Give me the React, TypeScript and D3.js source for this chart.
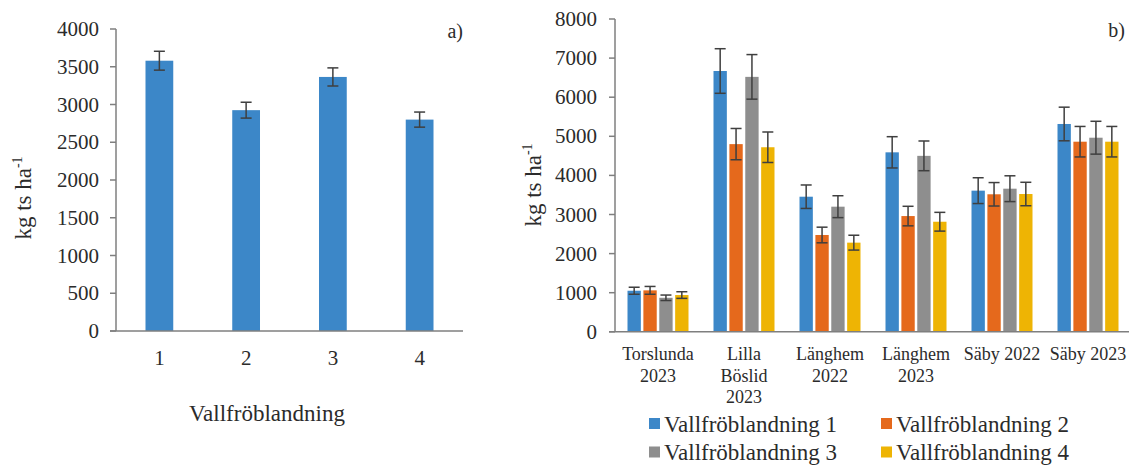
import React, { useEffect, useRef } from "react";
import * as d3 from "d3";

// Panel a) – mean yield per seed mixture
const mixtures = ["1", "2", "3", "4"];
const meanYield = [3580, 2925, 3365, 2800];
const meanErr = [125, 105, 120, 100];

// Panel b) – yield per site and year
const sites = [
  ["Torslunda", "2023"],
  ["Lilla", "Böslid", "2023"],
  ["Länghem", "2022"],
  ["Länghem", "2023"],
  ["Säby 2022"],
  ["Säby 2023"],
];
const seriesNames = [
  "Vallfröblandning 1",
  "Vallfröblandning 2",
  "Vallfröblandning 3",
  "Vallfröblandning 4",
];
const mix1 = [1050, 6670, 3455, 4590, 3610, 5315];
const mix2 = [1060, 4800, 2476, 2960, 3517, 4862];
const mix3 = [870, 6520, 3200, 4500, 3660, 4964];
const mix4 = [940, 4720, 2280, 2815, 3524, 4862];
const err1 = [90, 570, 300, 400, 330, 430];
const err2 = [100, 400, 200, 250, 300, 390];
const err3 = [70, 570, 280, 380, 330, 420];
const err4 = [85, 390, 190, 240, 300, 390];

const yTicksA = d3.range(0, 4001, 500);
const yTicksB = d3.range(0, 8001, 1000);

const colors = ["#3c87c8", "#e5691c", "#8e8e8e", "#eeb404"];
const font = "Liberation Serif, DejaVu Serif, serif";
const textColor = "#2b2b2b";
const axisColor = "#7f7f7f";
const errColor = "#3f3f3f";

const App = () => {
  const svgRef = useRef(null);

  useEffect(() => {
    const svg = d3.select(svgRef.current);
    svg.selectAll("*").remove();
    svg.attr("font-family", font);

    // ---------- panel a ----------
    const xA = d3.scaleBand().domain(mixtures).range([116, 463]).padding(0);
    const yA = d3.scaleLinear().domain([0, 4000]).range([331, 29]);
    const barWA = xA.bandwidth() * 0.32;

    const gA = svg.append("g");

    // y axis ticks + labels
    gA.selectAll(".tickA")
      .data(yTicksA)
      .enter()
      .append("line")
      .attr("x1", 110)
      .attr("x2", 116)
      .attr("y1", (d) => yA(d))
      .attr("y2", (d) => yA(d))
      .attr("stroke", axisColor)
      .attr("stroke-width", 1.5);

    gA.selectAll(".tickLabelA")
      .data(yTicksA)
      .enter()
      .append("text")
      .attr("x", 99)
      .attr("y", (d) => yA(d) + 7)
      .attr("text-anchor", "end")
      .attr("font-size", 21)
      .attr("fill", textColor)
      .text((d) => d);

    // bars
    gA.selectAll(".barA")
      .data(meanYield)
      .enter()
      .append("rect")
      .attr("x", (d, i) => xA(mixtures[i]) + xA.bandwidth() / 2 - barWA / 2)
      .attr("y", (d) => yA(d))
      .attr("width", barWA)
      .attr("height", (d) => yA(0) - yA(d))
      .attr("fill", colors[0]);

    // error bars
    meanYield.forEach((d, i) => {
      const cx = xA(mixtures[i]) + xA.bandwidth() / 2;
      const lo = yA(d - meanErr[i]);
      const hi = yA(d + meanErr[i]);
      gA.append("line")
        .attr("x1", cx).attr("x2", cx).attr("y1", lo).attr("y2", hi)
        .attr("stroke", errColor).attr("stroke-width", 1.5);
      [lo, hi].forEach((yy) =>
        gA.append("line")
          .attr("x1", cx - 5.5).attr("x2", cx + 5.5).attr("y1", yy).attr("y2", yy)
          .attr("stroke", errColor).attr("stroke-width", 1.5)
      );
    });

    // axes lines
    gA.append("line")
      .attr("x1", 116).attr("x2", 116).attr("y1", yA(4000)).attr("y2", yA(0))
      .attr("stroke", axisColor).attr("stroke-width", 1.5);
    gA.append("line")
      .attr("x1", 110).attr("x2", 463).attr("y1", yA(0)).attr("y2", yA(0))
      .attr("stroke", axisColor).attr("stroke-width", 1.5);

    // category labels
    gA.selectAll(".catA")
      .data(mixtures)
      .enter()
      .append("text")
      .attr("x", (d) => xA(d) + xA.bandwidth() / 2)
      .attr("y", 365)
      .attr("text-anchor", "middle")
      .attr("font-size", 21)
      .attr("fill", textColor)
      .text((d) => d);

    // axis title
    gA.append("text")
      .attr("x", 267)
      .attr("y", 421)
      .attr("text-anchor", "middle")
      .attr("font-size", 23)
      .attr("fill", textColor)
      .text("Vallfröblandning");

    const yLabA = gA.append("text")
      .attr("transform", "translate(31,198) rotate(-90)")
      .attr("text-anchor", "middle")
      .attr("font-size", 23)
      .attr("fill", textColor);
    yLabA.append("tspan").text("kg ts ha");
    yLabA.append("tspan").attr("dy", -9).attr("font-size", 14).text("-1");

    gA.append("text")
      .attr("x", 463)
      .attr("y", 38)
      .attr("text-anchor", "end")
      .attr("font-size", 20)
      .attr("fill", textColor)
      .text("a)");

    // ---------- panel b ----------
    const siteKeys = sites.map((s) => s.join(" "));
    const x0 = d3.scaleBand().domain(siteKeys).range([615, 1131]).padding(0);
    const groupW = 61;
    const x1 = d3
      .scaleBand()
      .domain(seriesNames)
      .range([x0.bandwidth() / 2 - groupW / 2, x0.bandwidth() / 2 + groupW / 2])
      .paddingInner(0.16);
    const yB = d3.scaleLinear().domain([0, 8000]).range([331.8, 19]);

    const gB = svg.append("g");

    gB.selectAll(".tickB")
      .data(yTicksB)
      .enter()
      .append("line")
      .attr("x1", 609)
      .attr("x2", 615)
      .attr("y1", (d) => yB(d))
      .attr("y2", (d) => yB(d))
      .attr("stroke", axisColor)
      .attr("stroke-width", 1.5);

    gB.selectAll(".tickLabelB")
      .data(yTicksB)
      .enter()
      .append("text")
      .attr("x", 597)
      .attr("y", (d) => yB(d) + 7)
      .attr("text-anchor", "end")
      .attr("font-size", 21)
      .attr("fill", textColor)
      .text((d) => d);

    const values = [mix1, mix2, mix3, mix4];
    const errors = [err1, err2, err3, err4];

    values.forEach((vals, s) => {
      gB.selectAll(".bar" + s)
        .data(vals)
        .enter()
        .append("rect")
        .attr("x", (d, i) => x0(siteKeys[i]) + x1(seriesNames[s]))
        .attr("y", (d) => yB(d))
        .attr("width", x1.bandwidth())
        .attr("height", (d) => yB(0) - yB(d))
        .attr("fill", colors[s]);
    });

    values.forEach((vals, s) => {
      vals.forEach((d, i) => {
        const cx = x0(siteKeys[i]) + x1(seriesNames[s]) + x1.bandwidth() / 2;
        const lo = yB(d - errors[s][i]);
        const hi = yB(d + errors[s][i]);
        gB.append("line")
          .attr("x1", cx).attr("x2", cx).attr("y1", lo).attr("y2", hi)
          .attr("stroke", errColor).attr("stroke-width", 1.5);
        [lo, hi].forEach((yy) =>
          gB.append("line")
            .attr("x1", cx - 5.5).attr("x2", cx + 5.5).attr("y1", yy).attr("y2", yy)
            .attr("stroke", errColor).attr("stroke-width", 1.5)
        );
      });
    });

    gB.append("line")
      .attr("x1", 615).attr("x2", 615).attr("y1", yB(8000)).attr("y2", yB(0))
      .attr("stroke", axisColor).attr("stroke-width", 1.5);
    gB.append("line")
      .attr("x1", 609).attr("x2", 1129).attr("y1", yB(0)).attr("y2", yB(0))
      .attr("stroke", axisColor).attr("stroke-width", 1.5);

    // multi-line site labels
    sites.forEach((lines, i) => {
      const t = gB.append("text")
        .attr("text-anchor", "middle")
        .attr("font-size", 18)
        .attr("fill", textColor);
      lines.forEach((ln, j) => {
        t.append("tspan")
          .attr("x", x0(siteKeys[i]) + x0.bandwidth() / 2)
          .attr("y", 360 + j * 21.5)
          .text(ln);
      });
    });

    const yLabB = gB.append("text")
      .attr("transform", "translate(541,185) rotate(-90)")
      .attr("text-anchor", "middle")
      .attr("font-size", 23)
      .attr("fill", textColor);
    yLabB.append("tspan").text("kg ts ha");
    yLabB.append("tspan").attr("dy", -9).attr("font-size", 14).text("-1");

    gB.append("text")
      .attr("x", 1125)
      .attr("y", 37)
      .attr("text-anchor", "end")
      .attr("font-size", 20)
      .attr("fill", textColor)
      .text("b)");

    // legend (2 x 2)
    const legX = [649, 881];
    const legY = [431.5, 460];
    seriesNames.forEach((name, s) => {
      const lx = legX[s % 2];
      const ly = legY[Math.floor(s / 2)];
      gB.append("rect")
        .attr("x", lx)
        .attr("y", ly - 13.5)
        .attr("width", 11)
        .attr("height", 11)
        .attr("fill", colors[s]);
      gB.append("text")
        .attr("x", lx + 15)
        .attr("y", ly)
        .attr("font-size", 23)
        .attr("fill", textColor)
        .text(name);
    });

    return () => {
      svg.selectAll("*").remove();
    };
  }, []);

  return (
    <div style={{ position: "absolute", left: 0, top: 0 }}>
      <svg ref={svgRef} width={1129} height={465} style={{ display: "block", background: "#fff" }}></svg>
    </div>
  );
};

export default App;
